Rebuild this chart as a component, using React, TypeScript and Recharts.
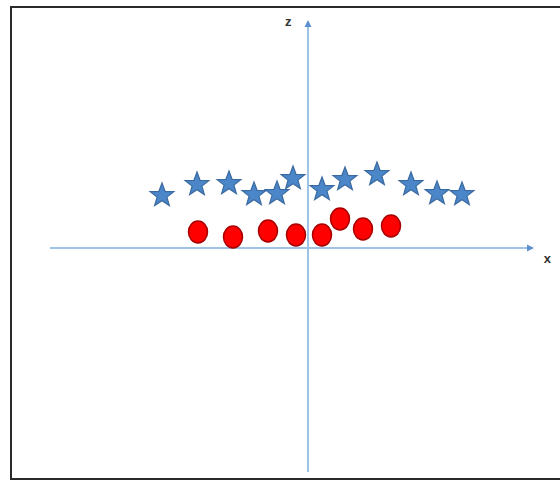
import { ScatterChart, Scatter, XAxis, YAxis, ReferenceLine } from "recharts";

// positions, origin where the two axes cross
const starX = [-7.3, -5.55, -3.95, -2.7, -1.55, -0.75, 0.7, 1.85, 3.45, 5.15, 6.45, 7.7];
const starZ = [2.7, 3.25, 3.3, 2.75, 2.8, 3.55, 3.0, 3.5, 3.75, 3.25, 2.8, 2.75];
const dotX = [-5.5, -3.75, -2.0, -0.6, 0.7, 1.6, 2.75, 4.15];
const dotZ = [0.8, 0.55, 0.85, 0.65, 0.65, 1.45, 0.95, 1.1];

const stars = starX.map((x, i) => ({ x, z: starZ[i] }));
const dots = dotX.map((x, i) => ({ x, z: dotZ[i] }));

const AXIS = "#9dc3e6";

const Star = (props: any) => {
  const { cx, cy } = props;
  const R = 12.5;
  const r = 5.2;
  const pts: string[] = [];
  for (let i = 0; i < 10; i++) {
    const a = -Math.PI / 2 + (i * Math.PI) / 5;
    const rad = i % 2 === 0 ? R : r;
    pts.push(`${cx + rad * Math.cos(a)},${cy + 1.5 + rad * Math.sin(a)}`);
  }
  return <polygon points={pts.join(" ")} fill="#4a86c8" stroke="#3a6aa0" strokeWidth={1.2} />;
};

const Oval = (props: any) => {
  const { cx, cy } = props;
  return <ellipse cx={cx} cy={cy} rx={9.5} ry={11} fill="#ff0000" stroke="#a80000" strokeWidth={1.5} />;
};

// axis line with an arrowhead at its second end
const Arrow = (props: any) => {
  const { x1, y1, x2, y2 } = props;
  const ang = Math.atan2(y2 - y1, x2 - x1);
  const L = 7;
  const W = 3.5;
  const bx = x2 - L * Math.cos(ang);
  const by = y2 - L * Math.sin(ang);
  const px = -Math.sin(ang) * W;
  const py = Math.cos(ang) * W;
  return (
    <g>
      <line x1={x1} y1={y1} x2={bx} y2={by} stroke={AXIS} strokeWidth={2} />
      <polygon points={`${x2},${y2} ${bx + px},${by + py} ${bx - px},${by - py}`} fill="#5b8fd0" />
    </g>
  );
};

export default function App() {
  return (
    <div style={{ position: "fixed", left: 0, top: 0, width: 560, height: 482, background: "#fff" }}>
      <div
        style={{
          position: "absolute",
          left: 10,
          top: 6,
          width: 560,
          height: 470,
          borderLeft: "2.5px solid #2a2a2a",
          borderTop: "2.5px solid #2a2a2a",
          borderBottom: "2.5px solid #2a2a2a",
        }}
      />
      <div style={{ position: "absolute", left: 0, top: 0 }}>
        <ScatterChart width={560} height={482} margin={{ top: 0, right: 0, bottom: 0, left: 0 }}>
          <XAxis type="number" dataKey="x" domain={[-15.4, 12.6]} hide />
          <YAxis type="number" dataKey="z" domain={[-11.7, 12.4]} hide />
          <ReferenceLine
            segment={[{ x: -12.9, y: 0 }, { x: 11.3, y: 0 }]}
            shape={Arrow}
            label={{ value: "x", position: "insideBottomRight", dx: 22, dy: 20, fill: "#333", fontSize: 13, fontWeight: "bold", fontFamily: "Liberation Sans" }}
          />
          <ReferenceLine
            segment={[{ x: 0, y: -11.2 }, { x: 0, y: 11.4 }]}
            shape={Arrow}
            label={{ value: "z", position: "insideTopLeft", dx: -28, dy: -8, fill: "#333", fontSize: 13, fontWeight: "bold", fontFamily: "Liberation Sans" }}
          />
          <Scatter data={stars} shape={Star} isAnimationActive={false} />
          <Scatter data={dots} shape={Oval} isAnimationActive={false} />
        </ScatterChart>
      </div>
    </div>
  );
}
